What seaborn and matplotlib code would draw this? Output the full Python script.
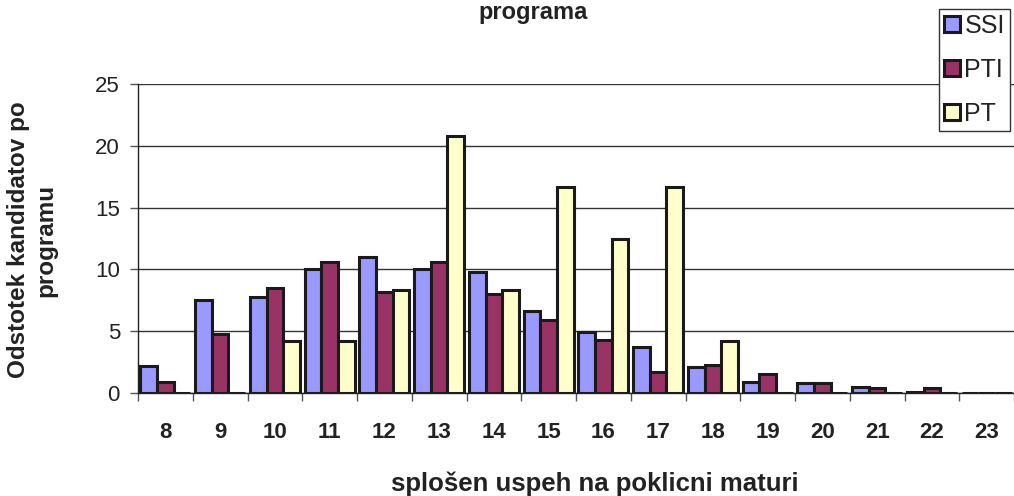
import numpy as np
import pandas as pd
import matplotlib
matplotlib.use("Agg")
import matplotlib.pyplot as plt
import seaborn as sns
from matplotlib.patches import Patch

categories = ["8", "9", "10", "11", "12", "13", "14", "15", "16", "17", "18", "19", "20", "21", "22", "23"]
ssi = [2.2, 7.5, 7.8, 10.0, 11.0, 10.0, 9.8, 6.6, 4.9, 3.7, 2.1, 0.9, 0.8, 0.5, 0.1, 0.0]
pti = [0.9, 4.8, 8.5, 10.6, 8.2, 10.6, 8.0, 5.9, 4.3, 1.7, 2.3, 1.5, 0.8, 0.4, 0.4, 0.0]
pt = [0.0, 0.0, 4.17, 4.17, 8.33, 20.83, 8.33, 16.67, 12.5, 16.67, 4.17, 0.0, 0.0, 0.0, 0.0, 0.0]
series_names = ["SSI", "PTI", "PT"]
colors = ["#9999FF", "#993366", "#FFFFCC"]

df = pd.DataFrame({
    "uspeh": categories * 3,
    "program": sum([[n] * len(categories) for n in series_names], []),
    "odstotek": ssi + pti + pt,
})

sns.set_theme(style="white")
plt.rcParams["font.family"] = ["Liberation Sans", "DejaVu Sans"]

W, H = 1014, 496
fig = plt.figure(figsize=(W / 100, H / 100), dpi=100)
ax = fig.add_axes([138 / W, 103 / H, 1 - 138 / W, 309 / H])

sns.barplot(data=df, x="uspeh", y="odstotek", hue="program", order=categories,
            hue_order=series_names, palette=colors, saturation=1, width=0.915, gap=0,
            edgecolor="#1a1a1a", linewidth=2.2, legend=False, ax=ax, zorder=3,
            err_kws={"linewidth": 0})

ax.set_ylim(0, 25)
ax.set_xlim(-0.5, len(categories) - 0.5)
ax.set_yticks([0, 5, 10, 15, 20, 25])
ax.yaxis.grid(True, color="#333333", linewidth=1.0, zorder=0)
ax.set_axisbelow(True)
for s in ["top", "right"]:
    ax.spines[s].set_visible(False)
for s in ["left", "bottom"]:
    ax.spines[s].set_color("#222222")
    ax.spines[s].set_linewidth(1.0)

ax.set_xticks(np.arange(len(categories) + 1) - 0.5, minor=True)
ax.tick_params(axis="x", which="major", length=0, pad=21, labelsize=16, colors="#222222")
ax.tick_params(axis="x", which="minor", bottom=True, length=6, width=1, color="#555555")
ax.tick_params(axis="y", left=True, length=6, width=1, color="#555555", labelsize=16,
               labelcolor="#222222", pad=7)
for lbl in ax.get_xticklabels():
    lbl.set_fontweight("bold")

xl = ax.set_xlabel("splošen uspeh na poklicni maturi", fontsize=18.5, fontweight="bold",
                   color="#222222")
ax.xaxis.set_label_coords((595 - 138) / 876, (5 - 103) / 309)
xl.set_verticalalignment("baseline")

yl = ax.set_ylabel("Odstotek kandidatov po\nprogramu", fontsize=17.5, fontweight="bold",
                   color="#222222", multialignment="center", linespacing=1.25)
ax.yaxis.set_label_coords((32.5 - 138) / 876, (256 - 103) / 309)
yl.set_verticalalignment("center")
yl.set_rotation_mode("default")

fig.text(533, H - 1, "programa", transform=None, ha="center", va="top",
         fontsize=17, fontweight="bold", color="#222222")

handles = [Patch(facecolor=c, edgecolor="#1a1a1a", linewidth=2.2) for c in colors]
leg = fig.legend(handles, series_names, loc="upper left",
                 bbox_to_anchor=(939 / W, 1 - 9 / H), frameon=True,
                 fontsize=18, handlelength=0.62, handleheight=0.62, handletextpad=0.2,
                 labelspacing=0.8, borderpad=0.2, borderaxespad=0, fancybox=False,
                 labelcolor="#222222")
leg.get_frame().set_edgecolor("#333333")
leg.get_frame().set_linewidth(1.0)
leg.get_frame().set_alpha(1)

fig.savefig("out.png", dpi=100)
